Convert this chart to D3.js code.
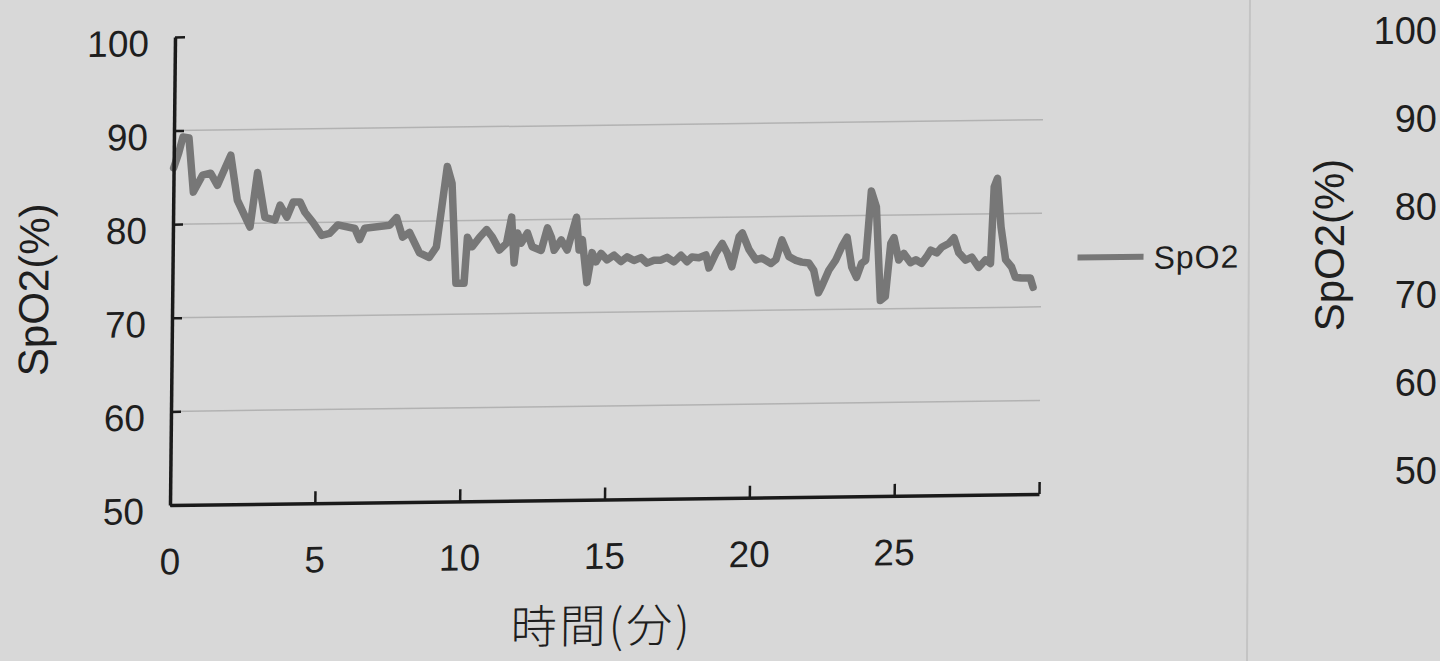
<!DOCTYPE html>
<html><head><meta charset="utf-8">
<script src="https://cdn.jsdelivr.net/npm/d3@7"></script>
<style>
html,body{margin:0;padding:0;background:#d8d8d8;overflow:hidden;}
svg{display:block;}
</style></head>
<body>
<svg id="chart" width="1440" height="661"></svg>
<script>
// ---- data ----
const minutes = [0,0.17,0.31,0.52,0.69,1.0,1.28,1.52,1.97,2.21,2.66,2.90,3.17,3.52,3.69,3.93,4.14,4.38,4.55,4.83,5.14,5.41,5.69,6.28,6.45,6.62,7.48,7.72,7.93,8.17,8.52,8.86,9.10,9.45,9.62,9.79,10.07,10.17,10.34,10.59,10.83,11.03,11.28,11.52,11.69,11.79,11.90,12.03,12.24,12.41,12.72,12.93,13.07,13.17,13.41,13.62,13.93,14.03,14.14,14.31,14.48,14.62,14.79,15.0,15.24,15.48,15.69,15.93,16.17,16.38,16.62,16.86,17.07,17.31,17.55,17.76,17.93,18.17,18.41,18.52,18.76,18.97,19.14,19.31,19.55,19.66,19.90,20.14,20.34,20.66,20.83,21.03,21.28,21.52,21.72,21.97,22.14,22.31,22.41,22.66,22.90,23.10,23.28,23.45,23.62,23.79,23.93,24.10,24.28,24.45,24.62,24.79,24.90,25.07,25.24,25.48,25.66,25.86,26.03,26.17,26.38,26.55,26.79,26.97,27.14,27.38,27.59,27.83,28.07,28.24,28.34,28.45,28.59,28.76,28.97,29.10,29.31,29.62,29.72];
const spo2 = [86,87.6,89.3,89.2,83.4,85.2,85.4,84.1,87.3,82.5,79.6,85.4,80.6,80.3,81.9,80.6,82.2,82.2,81.1,80.0,78.6,78.8,79.7,79.3,78.1,79.3,79.6,80.4,78.3,78.8,76.6,76.1,77.2,85.8,84.0,73.3,73.3,78.2,77.2,78.2,79.0,78.2,76.8,77.5,80.3,75.4,78.6,77.5,78.6,77.1,76.7,79.1,78.1,76.7,77.8,76.7,80.2,76.7,77.8,73.2,76.4,75.4,76.3,75.6,76.1,75.4,75.9,75.5,75.8,75.2,75.5,75.5,75.8,75.3,76.0,75.3,75.8,75.7,76.0,74.6,76.2,77.2,76.2,74.7,77.9,78.3,76.5,75.4,75.6,75.0,75.4,77.5,75.7,75.3,75.1,75.0,74.2,71.8,72.4,74.2,75.3,76.7,77.7,74.5,73.4,74.9,75.2,82.6,80.9,70.9,71.3,77.0,77.6,75.2,75.9,74.9,75.2,74.8,75.5,76.2,75.9,76.5,76.9,77.5,75.9,75.1,75.4,74.3,75.1,74.7,82.9,83.8,78.6,75.1,74.3,73.2,73.1,73.1,72.1];
const yTicks = [50,60,70,80,90,100];
const yGrid = [60,70,80,90];
const xTicks = [0,5,10,15,20,25,30];
const xTickLabels = ["0","5","10","15","20","25",""];
const seriesName = "SpO2";
const yTitle = "SpO2(%)";
const xTitle = "時間(分)";
const nextChartTicks = [100,90,80,70,60,50];

// ---- layout ----
const svg = d3.select("#chart");
const W = 1440, H = 661;
const x0 = 170, x1 = 1039, yTop = 37, yBot = 505;
const numFont = "'Liberation Sans',Arial,sans-serif";
const textCol = "#1e1e1e";

svg.append("rect").attr("width", W).attr("height", H).attr("fill", "#d8d8d8");

// faint page divider of the next chart
svg.append("line").attr("x1", 1250).attr("x2", 1247).attr("y1", 0).attr("y2", H)
  .attr("stroke", "#c4c4c4").attr("stroke-width", 2);

const x = d3.scaleLinear().domain([0, 30]).range([x0, x1]);
const y = d3.scaleLinear().domain([50, 100]).range([yBot, yTop]);

// slight photographic skew of the printed page
const g = svg.append("g")
  .attr("transform", `translate(${x0},${yBot}) matrix(1,-0.0126,-0.0107,1,0,0) translate(${-x0},${-yBot})`);

// gridlines
g.append("g").selectAll("line").data(yGrid).join("line")
  .attr("x1", x0).attr("x2", x1)
  .attr("y1", d => y(d)).attr("y2", d => y(d))
  .attr("stroke", "#b2b2b2").attr("stroke-width", 1.5);

// series line
const line = d3.line().x((d, i) => x(minutes[i])).y(d => y(d)).curve(d3.curveLinear);
g.append("path").datum(spo2)
  .attr("d", line)
  .attr("fill", "none").attr("stroke", "#777777")
  .attr("stroke-width", 7.5).attr("stroke-linejoin", "round").attr("stroke-linecap", "round");

// y axis
const yAxis = d3.axisLeft(y).tickValues(yTicks).tickSizeInner(-10).tickSizeOuter(0).tickPadding(26);
const ya = g.append("g").attr("transform", `translate(${x0},0)`).call(yAxis);
ya.select(".domain").attr("stroke", "#1a1a1a").attr("stroke-width", 3.5);
ya.selectAll(".tick line").attr("stroke", "#1a1a1a").attr("stroke-width", 2.5);
ya.selectAll(".tick text").attr("font-family", numFont).attr("font-size", 37)
  .attr("fill", textCol).attr("dy", "0.5em").attr("font-weight", 300);

// x axis
const xAxis = d3.axisBottom(x).tickValues(xTicks).tickSizeInner(-12).tickSizeOuter(0).tickPadding(43)
  .tickFormat((d, i) => xTickLabels[i]);
const xa = g.append("g").attr("transform", `translate(0,${yBot})`).call(xAxis);
xa.select(".domain").attr("stroke", "#1a1a1a").attr("stroke-width", 3.5);
xa.selectAll(".tick line").attr("stroke", "#1a1a1a").attr("stroke-width", 2.5);
xa.selectAll(".tick text").attr("font-family", numFont).attr("font-size", 37)
  .attr("fill", textCol);

// axis titles
g.append("text").attr("transform", `translate(46,288) rotate(-90)`)
  .attr("text-anchor", "middle").attr("font-family", numFont)
  .attr("font-size", 42).attr("fill", textCol).text(yTitle);
g.append("text").attr("x", 603).attr("y", 648)
  .attr("text-anchor", "middle").attr("font-family", "'Noto Sans CJK JP','Noto Sans CJK SC',sans-serif")
  .attr("font-size", 46).attr("letter-spacing", 3).attr("font-weight", 300).attr("fill", textCol).text(xTitle);

// legend
const lg = g.append("g").attr("transform", "translate(1075,269)");
lg.append("line").attr("x1", 0).attr("x2", 66).attr("y1", 0).attr("y2", 0)
  .attr("stroke", "#777777").attr("stroke-width", 6);
lg.append("text").attr("x", 76).attr("y", 12).attr("font-family", numFont)
  .attr("font-size", 32).attr("letter-spacing", 1).attr("fill", textCol).text(seriesName);

// partial next chart at the right edge
const y2 = d3.scaleLinear().domain([50, 100]).range([470, 30]);
svg.append("g").selectAll("text").data(nextChartTicks).join("text")
  .attr("x", 1437).attr("y", d => y2(d)).attr("dy", "0.36em")
  .attr("text-anchor", "end").attr("font-family", numFont).attr("font-size", 38)
  .attr("fill", textCol).text(d => d);
svg.append("text").attr("transform", "translate(1344,245) rotate(-90)")
  .attr("text-anchor", "middle").attr("font-family", numFont)
  .attr("font-size", 42).attr("fill", textCol).text(yTitle);
</script>
</body></html>
